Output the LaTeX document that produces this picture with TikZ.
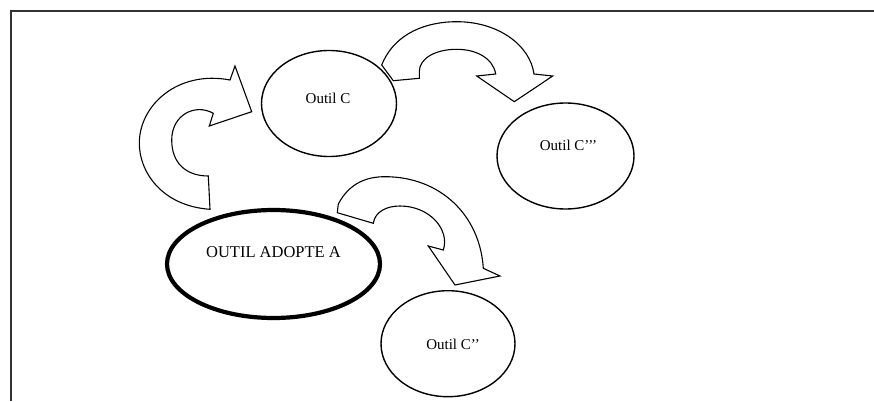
\documentclass[tikz,border=0pt]{standalone}
\usepackage{fontspec}
\setmainfont{Liberation Serif}
\usetikzlibrary{shapes.geometric}
\begin{document}
\begin{tikzpicture}[x=1pt,y=-1pt,
  frameline/.style={draw=black!80,line width=2pt},
  blockarrow/.style={draw=black,fill=white,line width=1.1pt,line join=miter},
  outil/.style={ellipse,draw=black,fill=white,line width=1.4pt,inner sep=0pt},
  outiltext/.style={font=\fontsize{15}{17}\selectfont,inner sep=0pt},
  adopte/.style={ellipse,draw=black,fill=white,line width=4.2pt,inner sep=0pt},
  adoptetext/.style={font=\fontsize{16.5}{18}\selectfont,inner sep=0pt}]
\useasboundingbox (0,0) rectangle (874,401);
\fill[white] (0,0) rectangle (874,401);
% frame
\draw[frameline] (10.5,401) -- (10.5,11) -- (874,11);

% arrow A -> C (left)
\draw[blockarrow] (210,209.3)
  .. controls (162,206) and (139.3,172) .. (139.3,143.3)
  .. controls (139.3,105) and (178,70) .. (230,80)
  -- (235,66) -- (251.7,111.7) -- (209.3,126) -- (213.3,113.3)
  .. controls (195,103) and (171.7,115) .. (171.7,140)
  .. controls (171.7,163) and (186,176) .. (208.3,176)
  -- cycle;

% arrow C -> C'''
\draw[blockarrow] (393.3,80.7) -- (381.7,65)
  .. controls (395,32) and (428,21.7) .. (456.7,21.7)
  .. controls (498,21.7) and (530,45) .. (534,74)
  -- (552.7,76) -- (514.3,101.7) -- (476.7,76) -- (495.7,74)
  .. controls (493,58) and (476,49.3) .. (456.7,49.3)
  .. controls (436,49.3) and (419.3,58) .. (419.3,71.7)
  -- (419.3,78.3) -- cycle;

% arrow A -> C''
\draw[blockarrow] (337.3,212.7) -- (338.3,204)
  .. controls (350,182) and (368,176.7) .. (385,176.7)
  .. controls (440,176.7) and (480,215) .. (483.3,268.3)
  -- (500,276) -- (455,285) -- (428.3,246) -- (443.3,250)
  .. controls (450,230) and (430,206) .. (400,206)
  .. controls (386,206) and (375,212) .. (373.3,223.3)
  -- cycle;

% ellipses
\node[outil,minimum width=135pt,minimum height=106pt] (c) at (329,103.5) {};
\node[outiltext] (ctext) at (328,98.5) {Outil C};
\node[outil,minimum width=137pt,minimum height=106pt] (c3) at (565.5,156) {};
\node[outiltext] (c3text) at (568.5,145) {Outil C’’’};
\node[outil,minimum width=134pt,minimum height=106pt] (c2) at (448,343.7) {};
\node[outiltext] (c2text) at (453,344) {Outil C’’};
\node[adopte,minimum width=213pt,minimum height=108pt] (a) at (273.5,264) {};
\node[adoptetext] (atext) at (273.5,252) {OUTIL ADOPTE A};
\end{tikzpicture}
\end{document}
